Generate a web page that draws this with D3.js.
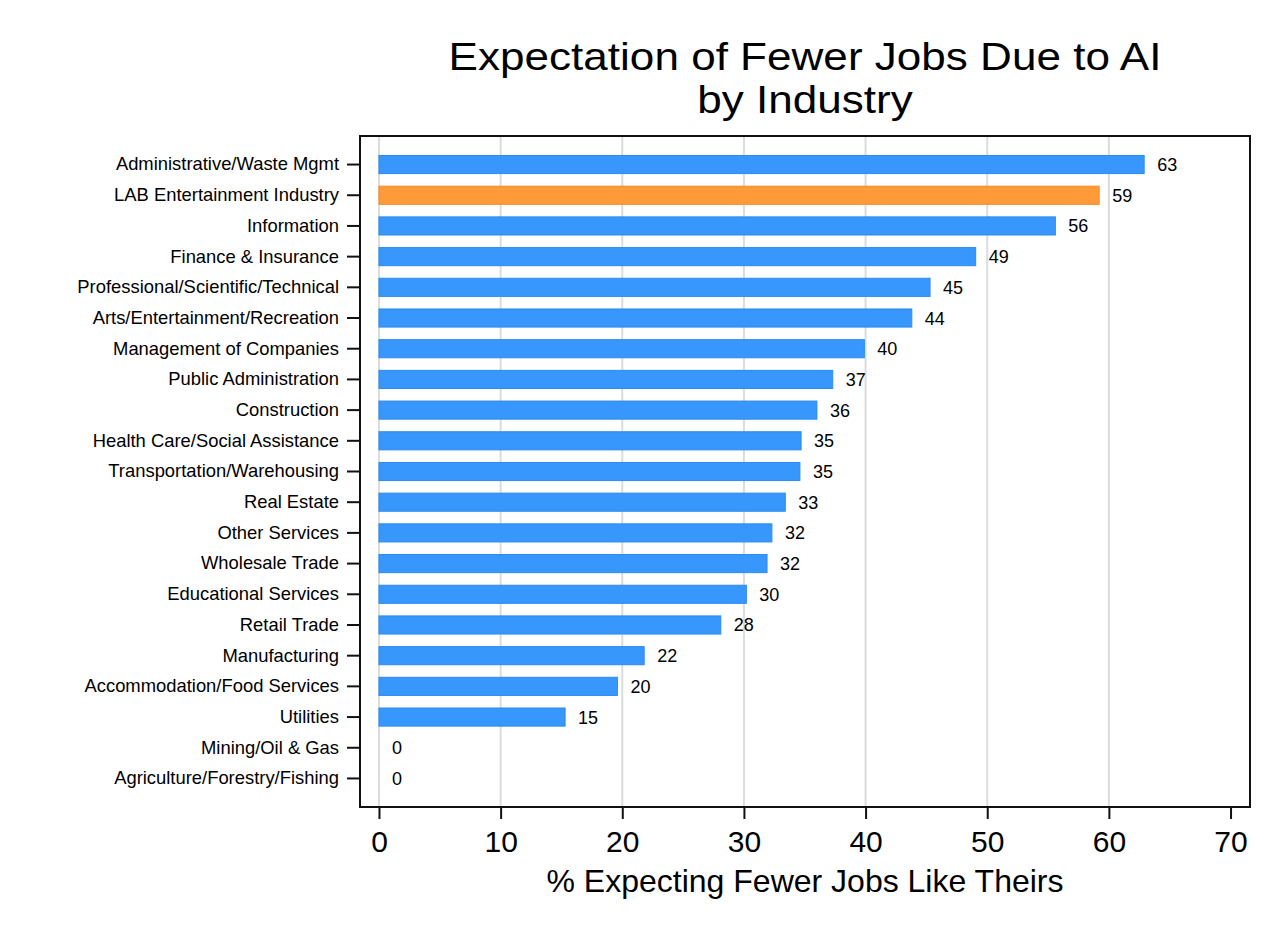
<!DOCTYPE html>
<html>
<head>
<meta charset="utf-8">
<script src="https://cdn.jsdelivr.net/npm/d3@7"></script>
<style>
  body { margin: 0; background: #fff; }
  svg text { font-family: "Liberation Sans", Arial, Helvetica, sans-serif; fill: #000; }
</style>
</head>
<body>
<svg id="chart" width="1285" height="935"></svg>
<script>
// industries, top to bottom
const industries = [
  'Administrative/Waste Mgmt',
  'LAB Entertainment Industry',
  'Information',
  'Finance & Insurance',
  'Professional/Scientific/Technical',
  'Arts/Entertainment/Recreation',
  'Management of Companies',
  'Public Administration',
  'Construction',
  'Health Care/Social Assistance',
  'Transportation/Warehousing',
  'Real Estate',
  'Other Services',
  'Wholesale Trade',
  'Educational Services',
  'Retail Trade',
  'Manufacturing',
  'Accommodation/Food Services',
  'Utilities',
  'Mining/Oil & Gas',
  'Agriculture/Forestry/Fishing'
];

// % expecting fewer jobs
const shares = [62.9, 59.2, 55.6, 49.05, 45.3, 43.8, 39.9, 37.3, 36.0, 34.7, 34.6,
                33.4, 32.3, 31.9, 30.2, 28.1, 21.8, 19.6, 15.3, 0, 0];

const highlighted = ['LAB Entertainment Industry'];

const xTicks = [0, 10, 20, 30, 40, 50, 60, 70];
const gridTicks = [0, 10, 20, 30, 40, 50, 60];

const titleLines = ['Expectation of Fewer Jobs Due to AI', 'by Industry'];

const data = industries.map((name, i) => ({ name: name, value: shares[i] }));

const svg = d3.select('#chart');

const plotLeft = 360, plotRight = 1250, plotTop = 136, plotBottom = 807;
const midX = (plotLeft + plotRight) / 2;

const x = d3.scaleLinear()
  .domain([-1.56, 71.6])
  .range([plotLeft, plotRight]);

const y = d3.scaleBand()
  .domain(industries)
  .range([plotTop, plotBottom])
  .paddingInner(0.41)
  .paddingOuter(0.635);

// grid lines
svg.append('g')
  .selectAll('line')
  .data(gridTicks)
  .enter()
  .append('line')
  .attr('x1', d => x(d))
  .attr('x2', d => x(d))
  .attr('y1', plotTop)
  .attr('y2', plotBottom)
  .attr('stroke', '#dcdcdc')
  .attr('stroke-width', 2);

// bars
svg.append('g')
  .selectAll('rect')
  .data(data.filter(d => d.value > 0))
  .enter()
  .append('rect')
  .attr('x', x(0))
  .attr('y', d => y(d.name))
  .attr('width', d => x(d.value) - x(0))
  .attr('height', y.bandwidth())
  .attr('fill', d => highlighted.includes(d.name) ? '#ff9a38' : '#3897fd')
  .attr('stroke', d => highlighted.includes(d.name) ? '#f5892a' : '#2d8af0')
  .attr('stroke-width', 1);

// value labels
svg.append('g')
  .selectAll('text')
  .data(data)
  .enter()
  .append('text')
  .attr('x', d => x(d.value) + 13)
  .attr('y', d => y(d.name) + y.bandwidth() / 2)
  .attr('dy', '0.36em')
  .style('font-size', '18px')
  .text(d => d3.format('.0f')(d.value));

// plot frame
svg.append('rect')
  .attr('x', plotLeft)
  .attr('y', plotTop)
  .attr('width', plotRight - plotLeft)
  .attr('height', plotBottom - plotTop)
  .attr('fill', 'none')
  .attr('stroke', '#111')
  .attr('stroke-width', 2);

// y axis
const yAxis = svg.append('g')
  .attr('transform', `translate(${plotLeft},0)`)
  .call(d3.axisLeft(y).tickSize(13).tickPadding(8));
yAxis.select('.domain').remove();
yAxis.selectAll('line').attr('stroke', '#111').attr('stroke-width', 2);
yAxis.selectAll('text').style('font-size', '18.4px').attr('fill', '#000');

// x axis
const xAxis = svg.append('g')
  .attr('transform', `translate(0,${plotBottom})`)
  .call(d3.axisBottom(x).tickValues(xTicks).tickFormat(d3.format('d')).tickSize(12).tickPadding(12));
xAxis.select('.domain').remove();
xAxis.selectAll('line').attr('stroke', '#111').attr('stroke-width', 2);
xAxis.selectAll('text').style('font-size', '30px').attr('fill', '#000');

// axis title
svg.append('text')
  .attr('x', midX)
  .attr('y', 892)
  .attr('text-anchor', 'middle')
  .style('font-size', '32px')
  .text('% Expecting Fewer Jobs Like Theirs');

// title: the original face is a bit wider than Liberation Sans, so stretch it
const title = svg.append('g')
  .attr('transform', `translate(${midX},0) scale(1.13,1)`)
  .append('text')
  .attr('text-anchor', 'middle')
  .style('font-size', '39px');
title.selectAll('tspan')
  .data(titleLines)
  .enter()
  .append('tspan')
  .attr('x', 0)
  .attr('y', (d, i) => 70 + i * 43.3)
  .text(d => d);
</script>
</body>
</html>
